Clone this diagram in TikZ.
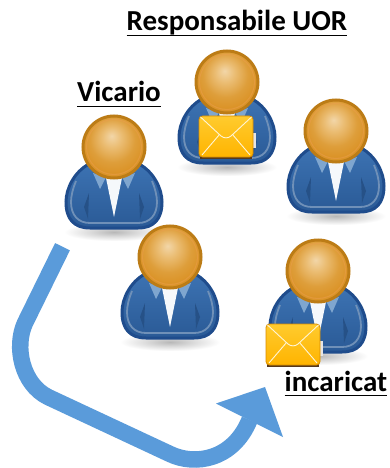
\documentclass[tikz,border=0pt]{standalone}
\usepackage{fontspec}
\setmainfont{Carlito}
\pgfdeclareradialshading{headball}{\pgfpoint{-2bp}{9bp}}{
  rgb(0bp)=(0.95,0.84,0.66);
  rgb(8bp)=(0.92,0.74,0.45);
  rgb(18bp)=(0.87,0.62,0.23);
  rgb(25bp)=(0.86,0.58,0.16);
  rgb(50bp)=(0.86,0.58,0.16)}
\pgfdeclareradialshading{softshadow}{\pgfpoint{0bp}{0bp}}{
  rgb(0bp)=(0.72,0.72,0.72);
  rgb(12bp)=(0.86,0.86,0.86);
  rgb(25bp)=(1,1,1);
  rgb(50bp)=(1,1,1)}
\definecolor{arrowblue}{HTML}{5A9BDA}
\definecolor{bodyline}{HTML}{1F4C8C}
\definecolor{bodytop}{HTML}{3C72B2}
\definecolor{bodybot}{HTML}{2A5A96}
\definecolor{bodyring}{HTML}{6F90B8}
\definecolor{lapel}{HTML}{7FA6CF}
\definecolor{headring}{HTML}{BC7C16}
\definecolor{envtop}{HTML}{FFCB2E}
\definecolor{envbot}{HTML}{FFB400}
\definecolor{envline}{HTML}{D98C00}
\tikzset{
  label text/.style={font=\bfseries\fontsize{29}{32}\selectfont, inner sep=0pt, anchor=base west},
  ulbar/.style={line width=1.7pt, black},
  person/.pic={
    \fill[shading=softshadow] (-50,76) rectangle (50,94);
    \path[draw=bodyline, line width=3pt, top color=bodytop, bottom color=bodybot]
      (-25,17) .. controls (-40,25) and (-48,42) .. (-48,55)
      .. controls (-48,72) and (-40,81) .. (-24,81) -- (24,81)
      .. controls (40,81) and (48,72) .. (48,55)
      .. controls (48,42) and (40,25) .. (25,17) -- cycle;
    \draw[bodyring, line width=1.8pt]
      (-38,34) .. controls (-41,41) and (-43,49) .. (-43,55)
      .. controls (-43,68) and (-36,76) .. (-24,76) -- (24,76)
      .. controls (36,76) and (43,68) .. (43,55)
      .. controls (43,49) and (41,41) .. (38,34);
    \fill[bodybot!90!black] (-30,60) -- (-25,46) -- (-26,72) -- cycle;
    \fill[bodybot!90!black] (30,60) -- (25,46) -- (26,72) -- cycle;
    \fill[white!92!lapel] (-9,26) -- (9,26) -- (0,70) -- cycle;
    \fill[lapel] (-21,26) -- (-14,42) -- (-8,30) -- cycle;
    \fill[lapel] (21,26) -- (14,42) -- (8,30) -- cycle;
    \path[shading=headball, draw=headring, line width=3pt] (0,0) circle (31);
    \draw[white!35!orange!70!brown, opacity=.45, line width=1pt] (0,0) circle (27.5);
  },
  envelope/.pic={
    \fill[white!90!black] (50,32) rectangle (57,17);
    \fill[black!55!brown] (1,4) rectangle (53,42.5);
    \path[draw=envline, line width=.8pt, top color=envtop, bottom color=envbot, rounded corners=3.5pt]
      (0,0) rectangle (54,41);
    \draw[white!80!envtop, line width=.9pt] (1.5,1) -- (22,20)
      .. controls (25,22.5) and (29,22.5) .. (32,20) -- (52.5,1);
    \draw[white!80!envtop, line width=.9pt] (3,39) -- (20.5,18.5);
    \draw[white!80!envtop, line width=.9pt] (51,39) -- (33.5,18.5);
  }
}
\begin{document}
\begin{tikzpicture}[x=1pt,y=-1pt]
\useasboundingbox (0,0) rectangle (390,468);
\clip (0,0) rectangle (390,468);
\fill[white] (0,0) rectangle (390,468);
% people
\pic at (114,147) {person};
\pic at (227,82) {person};
\pic at (336,131) {person};
\pic at (170,257) {person};
\pic at (318,271) {person};
% envelopes
\pic at (199,116) {envelope};
\pic at (266,324) {envelope};
% labels
\node[label text] (uor) at (126.5,31) {Responsabile UOR};
\node[label text] (vic) at (77,102) {Vicario};
\node[label text] (inc) at (284.5,391) {incaricat};
\draw[ulbar] ([yshift=-4.5pt]uor.base west) -- ([yshift=-4.5pt]uor.base east);
\draw[ulbar] ([yshift=-4.5pt]vic.base west) -- ([yshift=-4.5pt]vic.base east);
\draw[ulbar] ([yshift=-4.5pt]inc.base west) -- ([yshift=-4.5pt]inc.base east);
% arrow
\coordinate (astart) at (62.5,246.7);
\coordinate (atip) at (249.5,420);
\draw[arrowblue, line width=16.5pt]
  (astart) -- (25,323) .. controls (14,347) and (22,384) .. (48,397)
  -- (170,454) .. controls (195,466) and (233,460) .. (atip);
\fill[arrowblue] (216,403.5) -- (265,387) -- (283,437) -- cycle;
\end{tikzpicture}
\end{document}
